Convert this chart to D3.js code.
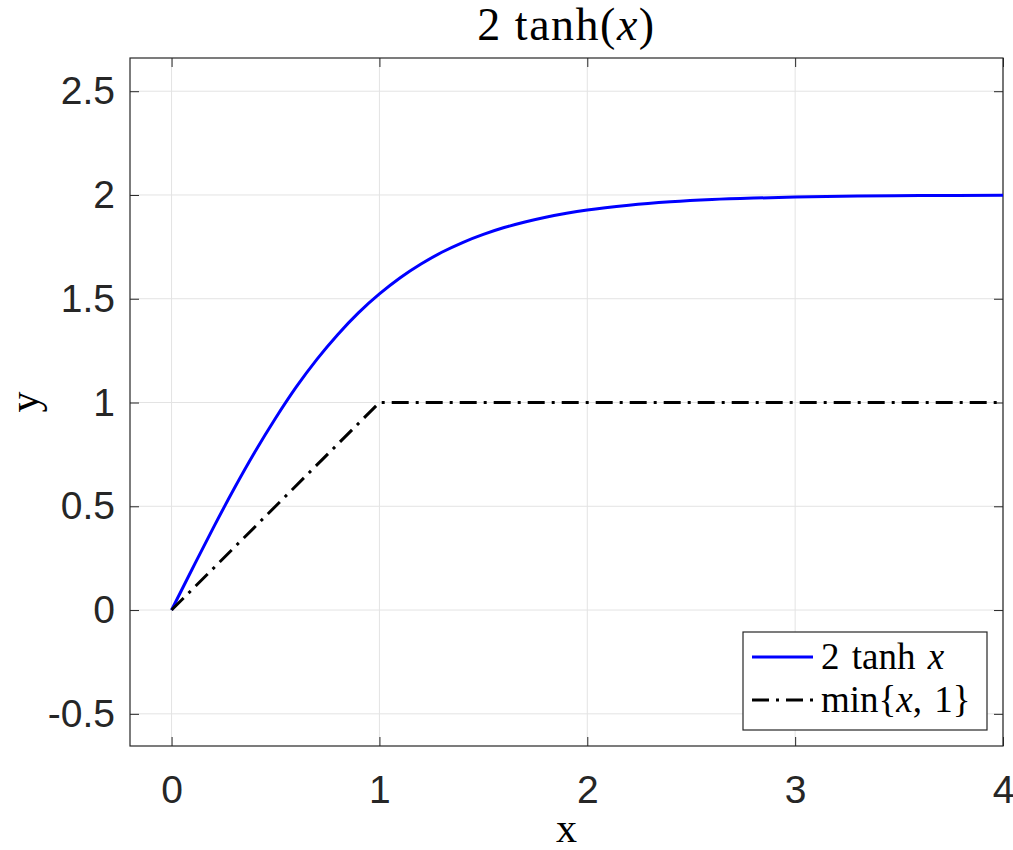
<!DOCTYPE html>
<html lang="en">
<head>
    <meta charset="UTF-8">
    <title>2 tanh(x)</title>
    <script src="https://d3js.org/d3.v7.min.js"></script>
    <style>
        body{ margin:0; background:#fff; }
        .tick text{ font-family:"Liberation Sans", Arial, sans-serif; font-size:39px; fill:#262626; }
        .math{ font-family:"Liberation Serif", "DejaVu Serif", serif; fill:#000; }
    </style>
</head>
<body>
<script>
    var w = 1013, h = 850;
    var margin = {left:130, right:10, top:58, bottom:104};

    // data
    var tanhX = [0,0.1,0.2,0.3,0.4,0.5,0.6,0.7,0.8,0.9,1.0,1.1,1.2,1.3,1.4,1.5,1.6,1.7,1.8,1.9,2.0,2.2,2.4,2.6,2.8,3.0,3.3,3.6,4.0];
    var tanhY = [0,0.199,0.395,0.583,0.760,0.924,1.075,1.209,1.328,1.433,1.523,1.601,1.667,1.724,1.771,1.810,1.843,1.870,1.893,1.912,1.928,1.951,1.967,1.978,1.985,1.990,1.995,1.997,1.999];
    var minX = [0,1,4];
    var minY = [0,1,1];
    var xTicks = [0,1,2,3,4];
    var yTicks = [-0.5,0,0.5,1,1.5,2,2.5];

    var svg = d3.select("body").append("svg").attr("width",w).attr("height",h);

    var xScale = d3.scaleLinear().domain([-0.2,4]).range([margin.left, w-margin.right]);
    var yScale = d3.scaleLinear().domain([-0.655,2.66]).range([h-margin.bottom, margin.top]);
    var x0 = xScale.range()[0], x1 = xScale.range()[1];
    var y0 = yScale.range()[0], y1 = yScale.range()[1];

    // grid
    svg.append("g").selectAll("line").data(xTicks).enter().append("line")
        .attr("x1",d=>xScale(d)).attr("x2",d=>xScale(d)).attr("y1",y0).attr("y2",y1)
        .attr("stroke","#e3e3e3").attr("stroke-width",1);
    svg.append("g").selectAll("line").data(yTicks).enter().append("line")
        .attr("y1",d=>yScale(d)).attr("y2",d=>yScale(d)).attr("x1",x0).attr("x2",x1)
        .attr("stroke","#e3e3e3").attr("stroke-width",1);

    // axes (ticks inward)
    function styleAxis(g){
        g.select(".domain").remove();
        g.selectAll(".tick line").attr("stroke","#262626");
    }
    svg.append("g").attr("transform",`translate(0,${y0})`)
        .call(d3.axisBottom(xScale).tickValues(xTicks).tickSize(-9).tickPadding(29).tickFormat(d3.format("d")))
        .call(styleAxis);
    svg.append("g").attr("transform",`translate(0,${y1})`)
        .call(d3.axisTop(xScale).tickValues(xTicks).tickSize(-9).tickFormat(""))
        .call(styleAxis);
    svg.append("g").attr("transform",`translate(${x0},0)`)
        .call(d3.axisLeft(yScale).tickValues(yTicks).tickSize(-9).tickPadding(15).tickFormat(d=>String(d)))
        .call(styleAxis);
    svg.append("g").attr("transform",`translate(${x1},0)`)
        .call(d3.axisRight(yScale).tickValues(yTicks).tickSize(-9).tickFormat(""))
        .call(styleAxis);
    svg.selectAll(".tick text").attr("fill","#262626");

    svg.append("rect").attr("x",x0).attr("y",y1).attr("width",x1-x0).attr("height",y0-y1)
        .attr("fill","none").attr("stroke","#262626").attr("stroke-width",1.2);

    // lines
    var line = d3.line().x(d=>xScale(d[0])).y(d=>yScale(d[1]));
    svg.append("path").datum(tanhX.map((x,i)=>[x,tanhY[i]]))
        .attr("d",line.curve(d3.curveMonotoneX))
        .attr("fill","none").attr("stroke","#0000ff").attr("stroke-width",3);
    svg.append("path").datum(minX.map((x,i)=>[x,minY[i]]))
        .attr("d",d3.line().x(d=>xScale(d[0])).y(d=>yScale(d[1])))
        .attr("fill","none").attr("stroke","#000").attr("stroke-width",3)
        .attr("stroke-dasharray","17,7,3,7");

    // title
    var title = svg.append("text").attr("class","math").attr("x",(x0+x1)/2).attr("y",40)
        .attr("text-anchor","middle").attr("font-size",46).attr("letter-spacing",1.5);
    title.append("tspan").text("2 tanh(");
    title.append("tspan").attr("font-style","italic").text("x");
    title.append("tspan").text(")");

    // axis labels
    svg.append("text").attr("class","math").attr("x",(x0+x1)/2).attr("y",842)
        .attr("text-anchor","middle").attr("font-size",42).text("x");
    svg.append("text").attr("class","math").attr("transform",`translate(38,${(y0+y1)/2}) rotate(-90)`)
        .attr("text-anchor","middle").attr("font-size",42).text("y");

    // legend
    var lg = svg.append("g");
    lg.append("rect").attr("x",743).attr("y",632).attr("width",244).attr("height",98)
        .attr("fill","#fff").attr("stroke","#262626").attr("stroke-width",1.2);
    var rows = [
        {color:"#0000ff", dash:null, parts:[["2 tanh ",false],["x",true]]},
        {color:"#000", dash:"17,7,3,7", parts:[["min{",false],["x",true],[", 1}",false]]}
    ];
    rows.forEach((r,i)=>{
        var yy = 657 + i*43;
        lg.append("line").attr("x1",752).attr("x2",813).attr("y1",yy).attr("y2",yy)
            .attr("stroke",r.color).attr("stroke-width",3).attr("stroke-dasharray",r.dash);
        var t = lg.append("text").attr("class","math").attr("x",821).attr("y",yy+12)
            .attr("font-size",37).attr("word-spacing",3);
        r.parts.forEach(p=>t.append("tspan").attr("font-style",p[1]?"italic":"normal").text(p[0]));
    });
</script>
</body>
</html>
